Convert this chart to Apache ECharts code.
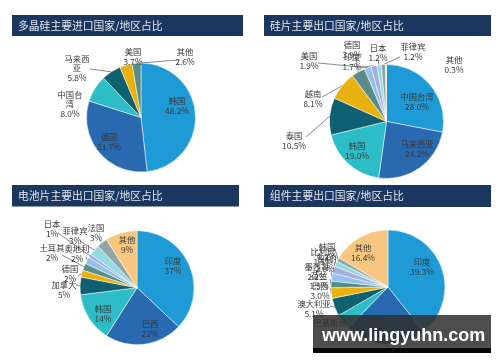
<!DOCTYPE html>
<html><head><meta charset="utf-8">
<script src="https://cdn.jsdelivr.net/npm/echarts/dist/echarts.min.js"></script>
<style>html,body{margin:0;padding:0;background:#fff}#c{width:500px;height:362px}</style>
</head><body><div id="c"></div>
<script>
// ---------- data ----------
const chartTitles = ['多晶硅主要进口国家/地区占比','硅片主要出口国家/地区占比','电池片主要出口国家/地区占比','组件主要出口国家/地区占比'];

const polyNames  = ['韩国','德国','中国台湾','马来西亚','美国','其他'];
const polyValues = [48.2, 31.7, 8.0, 5.8, 3.7, 2.6];

const waferNames  = ['中国台湾','马来西亚','韩国','泰国','越南','德国','美国','印度','日本','菲律宾','其他'];
const waferValues = [28.0, 24.2, 19.0, 10.5, 8.1, 3.9, 1.9, 1.7, 1.2, 1.2, 0.3];

const cellNames  = ['印度','巴西','韩国','加拿大','德国','土耳其','奥地利','日本','菲律宾','法国','其他'];
const cellValues = [37, 22, 14, 5, 2, 2, 2, 1, 3, 3, 9];

const moduleNames  = ['印度','日本','巴基斯坦','澳大利亚','巴西','荷兰','墨西哥','智利','比利时','韩国','其他'];
const moduleValues = [39.3, 23.0, 4.4, 5.1, 3.0, 1.9, 2.2, 2.0, 1.5, 1.2, 16.4];

const valueDecimals = [1, 1, 0, 1];
const watermarkText = 'www.lingyuhn.com';

// ---------- styling / layout ----------
const palette = ['#1e9ad6','#2969b0','#2dbdc6','#0f6070','#e8b10e','#5a8d89','#94c0ea','#a5aee3','#93d9e2','#92a7a5','#f8c77f'];
const seriesNames = [polyNames, waferNames, cellNames, moduleNames];
const seriesValues = [polyValues, waferValues, cellValues, moduleValues];
const pieGeom = [ // cx, cy, r
  [141, 117.5, 54.5],
  [386.5, 121.5, 57],
  [137, 287.7, 57],
  [388, 287, 57]
];
// label placement: p = label centre, a = leader-line end at label (no a = no line), b = break name
const labelPlace = [
  [ {p:[177,106]}, {p:[109,142]}, {p:[70,104],b:1}, {p:[77,68],a:[90,69],b:1}, {p:[133,57]}, {p:[185,57],a:[179,60]} ],
  [ {p:[417,102]}, {p:[417,149]}, {p:[357,151]}, {p:[294,141],a:[306,137]}, {p:[313,99],a:[322,97]},
    {p:[352,50],a:[356,57]}, {p:[309,61],a:[318,63]}, {p:[352,62],a:[362,67]}, {p:[378,53],a:[378,60]},
    {p:[413,52],a:[400,57]}, {p:[454,65]} ],
  [ {p:[173,266]}, {p:[150,329]}, {p:[103,314]}, {p:[64,290],a:[76,285]}, {p:[70,274],a:[78,276]},
    {p:[52,253],a:[62,255]}, {p:[77,254],a:[86,257]}, {p:[52,229],a:[58,233]}, {p:[75,236],a:[80,241]},
    {p:[96,233],a:[99,239]}, {p:[127,245]} ],
  [ {p:[422,267]}, {p:[376,326]}, {p:[330,328]}, {p:[314,309],a:[330,306]}, {p:[320,291],a:[330,288]},
    {p:[319,281],a:[330,279]}, {p:[317,272],a:[331,270]}, {p:[325,264],a:[335,262]}, {p:[323,257],a:[335,255]},
    {p:[327,252],a:[335,249]}, {p:[363,253]} ]
];

function arcPoint(si, di){
  const vals = seriesValues[si];
  const tot = vals.reduce((s,v)=>s+v,0);
  let before = 0;
  for (let i=0;i<di;i++) before += vals[i];
  const mid = (before + vals[di]/2) / tot * 2 * Math.PI;
  const g = pieGeom[si];
  return [g[0] + g[2]*Math.sin(mid), g[1] - g[2]*Math.cos(mid)];
}

function makeSeries(si){
  const names = seriesNames[si], vals = seriesValues[si], d = valueDecimals[si];
  const g = pieGeom[si];
  return {
    type:'pie', center:[g[0], g[1]], radius:[0, g[2]], startAngle:90, clockwise:true,
    avoidLabelOverlap:false, animation:false,
    itemStyle:{borderColor:'#ffffff', borderWidth:0.5},
    label:{show:true, position:'outside', fontSize:8.3, lineHeight:9.5, color:'#383838',
      fontFamily:'"Noto Sans CJK SC", sans-serif',
      formatter:function(pr){
        const L = labelPlace[si][pr.dataIndex];
        let n = pr.name;
        if (L && L.b && n.length > 3) n = n.slice(0,3) + '\n' + n.slice(3);
        return n + '\n' + Number(pr.value).toFixed(d) + '%';
      }},
    labelLine:{show:true, length:4, length2:0, lineStyle:{color:'#555555', width:0.7}},
    labelLayout:function(pr){
      const L = labelPlace[si][pr.dataIndex];
      if (!L) return;
      const res = {x:L.p[0], y:L.p[1], align:'center', verticalAlign:'middle'};
      if (L.a) res.labelLinePoints = [arcPoint(si, pr.dataIndex), L.a];
      return res;
    },
    emphasis:{disabled:true},
    data: names.map((n,i)=>({
      name:n, value:vals[i], itemStyle:{color:palette[i % palette.length]},
      labelLine:{show: !!labelPlace[si][i].a}
    }))
  };
}

const titleBars = [[12,15,231,21],[264,15,227,21],[12,185,227,21.5],[264,185,227,22]];
const titleTextPos = [[18,25.5],[270,25.5],[18,195.8],[270,196]];

const chart = echarts.init(document.getElementById('c'), null, {renderer:'canvas'});
const graphics = [];
titleBars.forEach(b=>graphics.push({type:'rect', shape:{x:b[0],y:b[1],width:b[2],height:b[3]}, style:{fill:'#1b365f'}, z:0}));
chartTitles.forEach((t,i)=>graphics.push({type:'text', x:titleTextPos[i][0], y:titleTextPos[i][1], z:1,
  style:{text:t, fill:'#e2e7ef', font:'10.8px "Noto Sans CJK SC", sans-serif', verticalAlign:'middle', align:'left'}}));
// watermark overlay
graphics.push({type:'rect', shape:{x:313,y:315,width:178,height:32.5}, style:{fill:'rgba(48,48,48,0.86)'}, z:100});
graphics.push({type:'rect', shape:{x:313,y:347.5,width:178,height:5.5}, style:{fill:'#050505'}, z:100});
graphics.push({type:'text', x:322, y:336.5, z:101,
  style:{text:watermarkText, fill:'#ffffff', font:'bold 18px "Liberation Sans", Arial, sans-serif', verticalAlign:'middle', align:'left'}});

chart.setOption({
  backgroundColor:'#ffffff',
  animation:false,
  graphic:{elements:graphics},
  series:[0,1,2,3].map(makeSeries)
});
</script>
</body></html>
